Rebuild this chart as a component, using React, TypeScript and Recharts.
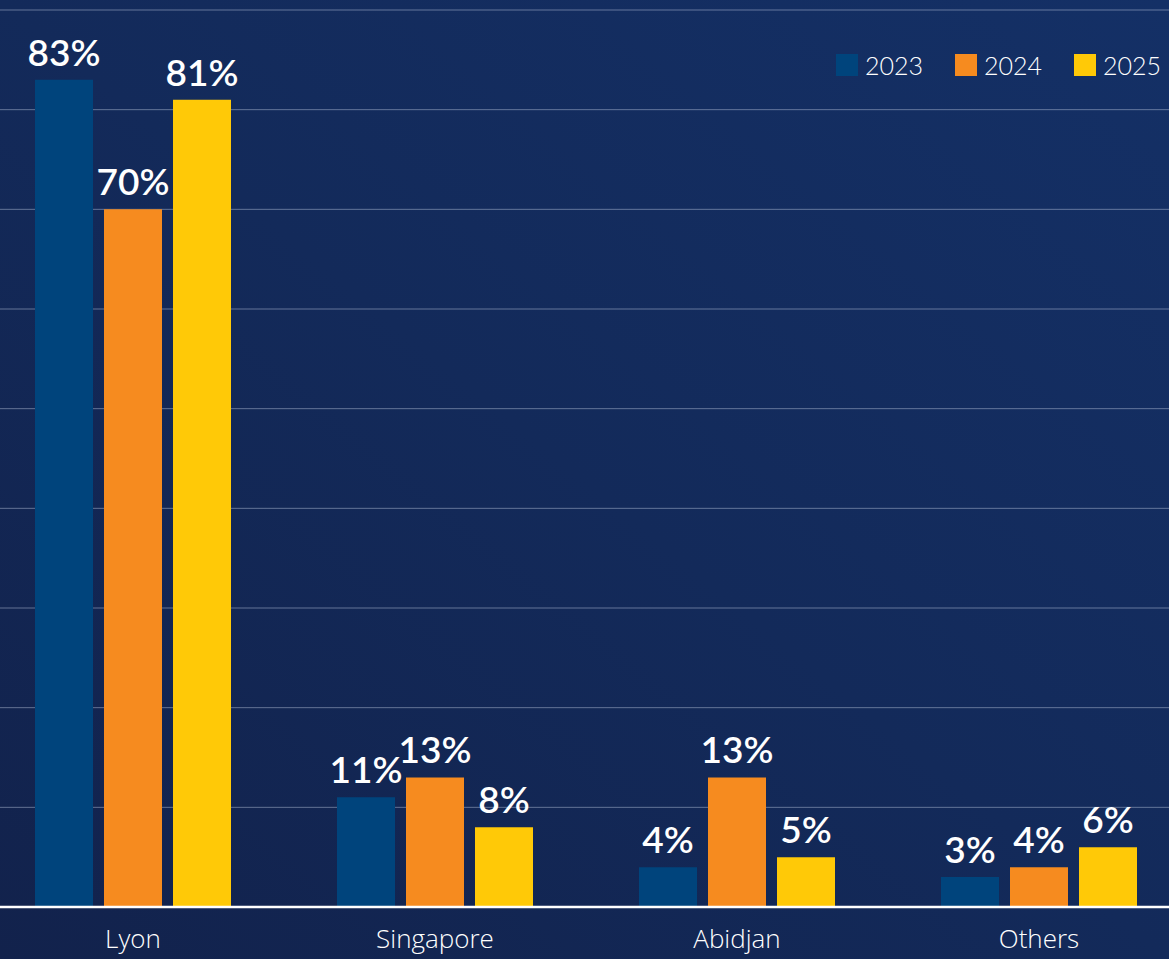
import { Bar, BarChart, CartesianGrid, LabelList, XAxis, YAxis } from "recharts"

const cities = ["Lyon", "Singapore", "Abidjan", "Others"]
const share2023 = [83, 11, 4, 3]
const share2024 = [70, 13, 13, 4]
const share2025 = [81, 8, 5, 6]
const yTicks = [0, 10, 20, 30, 40, 50, 60, 70, 80, 90]

const series = [
  { key: "y2023", name: "2023", color: "#00447c" },
  { key: "y2024", name: "2024", color: "#f68b1f" },
  { key: "y2025", name: "2025", color: "#ffc907" },
]

const data = cities.map((city, i) => ({
  city,
  y2023: share2023[i],
  y2024: share2024[i],
  y2025: share2025[i],
}))

const font = "Lato, 'Open Sans', sans-serif"
const tickFont = "'Open Sans', Lato, sans-serif"

function YearLegend() {
  return (
    <div style={{ position: "absolute", left: 836, top: 54, display: "flex", gap: 32, fontFamily: font }}>
      {series.map((s) => (
        <div key={s.key} style={{ display: "flex", alignItems: "center", gap: 7, height: 22 }}>
          <span style={{ width: 22, height: 22, background: s.color, display: "inline-block" }} />
          <span style={{ color: "#fff", fontSize: 25, fontWeight: 300, lineHeight: "22px" }}>{s.name}</span>
        </div>
      ))}
    </div>
  )
}

export default function App() {
  return (
    <div
      style={{
        position: "absolute",
        left: 0,
        top: 0,
        width: 1169,
        height: 959,
        overflow: "hidden",
        background: "linear-gradient(to top right, #12224c 0%, #132a5a 50%, #143066 100%)",
      }}
    >
      <div style={{ position: "absolute", left: -18, top: 0 }}>
        <BarChart
          width={1208}
          height={959}
          data={data}
          margin={{ top: 10, right: 0, bottom: 0, left: 0 }}
          barSize={58}
          barGap={11}
        >
          <CartesianGrid vertical={false} stroke="rgba(200,208,230,0.45)" />
          <YAxis hide domain={[0, 90]} ticks={yTicks} />
          <XAxis
            dataKey="city"
            height={52}
            axisLine={{ stroke: "#ffffff", strokeWidth: 2.5 }}
            tickLine={false}
            tick={{ fill: "#ffffff", fontSize: 26, fontFamily: tickFont, fontWeight: 300 }}
            tickMargin={17}
          />
          {series.map((s) => (
            <Bar key={s.key} dataKey={s.key} name={s.name} fill={s.color} isAnimationActive={false}>
              <LabelList
                dataKey={s.key}
                position="top"
                offset={14}
                formatter={(v: number) => `${v}%`}
                fill="#ffffff"
                style={{ fontSize: 37, fontFamily: font, fontWeight: 600 }}
              />
            </Bar>
          ))}
        </BarChart>
      </div>
      <YearLegend />
    </div>
  )
}
